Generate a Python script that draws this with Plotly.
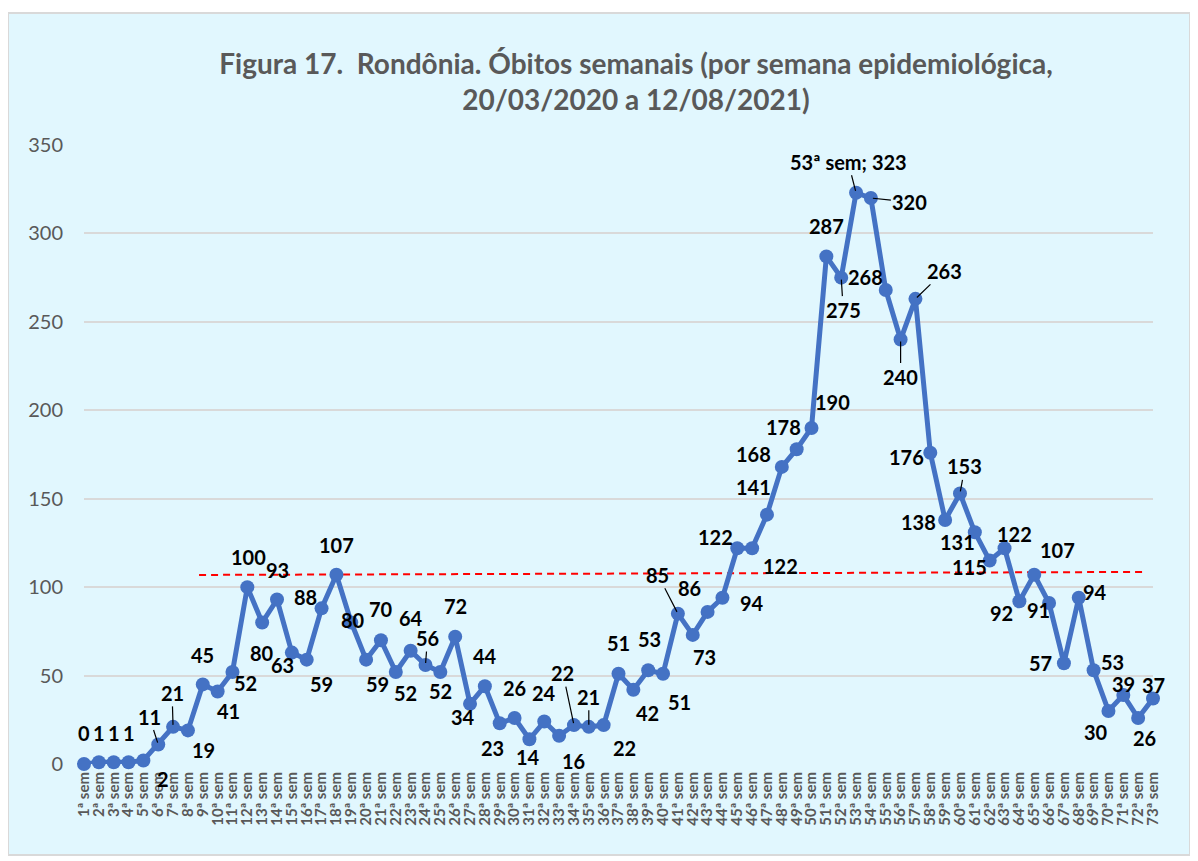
import plotly.graph_objects as go

weeks = list(range(1, 74))
week_labels = [f"{w}ª sem" for w in weeks]
deaths = [0, 1, 1, 1, 2, 11, 21, 19, 45, 41, 52, 100, 80, 93, 63, 59, 88, 107, 80, 59,
          70, 52, 64, 56, 52, 72, 34, 44, 23, 26, 14, 24, 16, 22, 21, 22, 51, 42, 53, 51,
          85, 73, 86, 94, 122, 122, 141, 168, 178, 190, 287, 275, 323, 320, 268, 240, 263, 176, 138, 153,
          131, 115, 122, 92, 107, 91, 57, 94, 53, 30, 39, 26, 37]
y_ticks = [0, 50, 100, 150, 200, 250, 300, 350]
ref_x = [8.75, 72.4]
ref_y = [106.9, 108.6]
peak_week = 53
peak_label = "53ª sem; 323"

# label offsets in pixels (dx, dy; dy positive = down) and leader-line flags
label_dx = [0, 0, 0, 0, 20, -9, -1, 16, 0, 11, 13, 1, 0, 0, -9, 15, -16, 0, 2, 11,
            0, 10, 0, 2, 0, 0, -7, 0, -7, 0, -1, 0, 14, -11, 0, 21, 0, 14, 1, 16,
            -20, 12, -18, 30, -22, 28, -13, -28, -13, 21, 0, 2, -8, 39, -20, 0, 29, -24, -27, 5,
            -17, -20, 10, -18, 23, -11, -23, 16, 19, -12, 0, 6, 0]
label_dy = [-31, -29, -29, -29, 19, -28, -34, 20, -29, 20, 11, -30, 30, -30, 12, 24, -11, -30, -3, 24,
            -31, 21, -33, -27, 19, -31, 13, -30, 25, -30, 18, -29, 25, -52, -30, 23, -31, 23, -31, 28,
            -39, 22, -24, 5, -11, 18, -28, -13, -22, -26, -30, 32, -31, 4, -13, 37, -28, 4, 2, -27,
            10, 6, -14, 12, -25, 7, 0, -6, -8, 21, -11, 20, -14]
leader_weeks = [6, 7, 24, 34, 35, 41, 52, 53, 54, 56, 57, 60]

LABEL_FONT = "Lato, 'Open Sans', sans-serif"

# figure is drawn inside an 8px page margin
W, H = 1190, 853
L, R, T, B = 76, 45, 137, 97
PW, PH = W - L - R, H - T - B

fig = go.Figure()

fig.add_trace(go.Scatter(
    x=ref_x, y=ref_y, mode="lines",
    line=dict(color="#FF0000", width=2, dash="7px,5px"),
    hoverinfo="skip", showlegend=False, cliponaxis=False,
))

fig.add_trace(go.Scatter(
    x=weeks, y=deaths, mode="lines+markers",
    line=dict(color="#4472C4", width=5),
    marker=dict(color="#4472C4", size=14),
    showlegend=False, cliponaxis=False,
))

annotations = []
for i, (w, v) in enumerate(zip(weeks, deaths)):
    text = peak_label if w == peak_week else str(v)
    has_line = w in leader_weeks
    annotations.append(dict(
        x=w, y=v, xref="x", yref="y",
        text=f"<b>{text}</b>",
        showarrow=True, arrowhead=0, arrowwidth=1.2,
        arrowcolor="#000000" if has_line else "rgba(0,0,0,0)",
        ax=label_dx[i], ay=label_dy[i], axref="pixel", ayref="pixel",
        standoff=2,
        font=dict(family=LABEL_FONT, size=20, color="#000000"),
    ))

fig.update_layout(
    width=W, height=H,
    margin=dict(l=L, r=R, t=T, b=B, autoexpand=False),
    paper_bgcolor="#FFFFFF",
    plot_bgcolor="rgba(0,0,0,0)",
    title=dict(
        text="<b>Figura 17.  Rondônia. Óbitos semanais (por semana epidemiológica,<br>20/03/2020 a 12/08/2021)</b>",
        x=628 / W, xref="container", xanchor="center",
        y=1 - 66 / H, yref="container", yanchor="middle",
        font=dict(family=LABEL_FONT, size=28, color="#595959"),
    ),
    xaxis=dict(
        range=[1, 73], tickmode="array", tickvals=weeks, ticktext=week_labels,
        tickangle=-90, showgrid=False, zeroline=False, showline=False,
        tickfont=dict(family=LABEL_FONT, size=15, color="#595959", weight="bold"),
        ticks="", ticklabelstandoff=4,
    ),
    yaxis=dict(
        range=[0, 350], tickmode="array", tickvals=y_ticks,
        showgrid=True, gridcolor="#D9D9D9", gridwidth=2, zeroline=False, showline=False,
        tickfont=dict(family=LABEL_FONT, size=20, color="#595959"),
        ticks="", ticklabelstandoff=20,
    ),
    annotations=annotations,
    shapes=[dict(
        type="rect", xref="paper", yref="paper",
        x0=(0 - L) / PW, x1=(1182 - L) / PW,
        y0=(H - B - 847) / PH, y1=(H - B - 5) / PH,
        fillcolor="#E1F7FE", line=dict(color="#D9D9D9", width=2), layer="below",
    )],
)

fig.write_html("out.html")
